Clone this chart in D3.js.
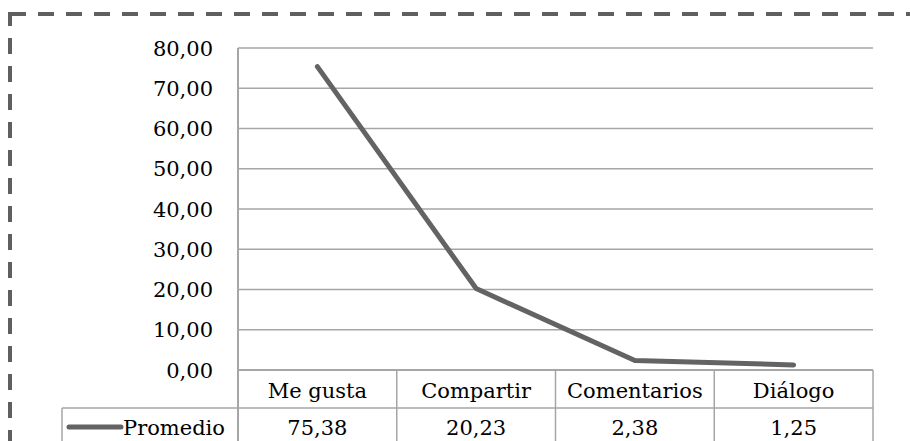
<!DOCTYPE html>
<html><head><meta charset="utf-8">
<script src="https://cdn.jsdelivr.net/npm/d3@7"></script>
<style>body{margin:0;background:#fff}svg{display:block}</style>
</head><body>
<svg id="c" width="910" height="441"></svg>
<script>
const categories = ["Me gusta","Compartir","Comentarios","Diálogo"];
const seriesName = "Promedio";
const values = [75.38,20.23,2.38,1.25];
const valueLabels = ["75,38","20,23","2,38","1,25"];
const yTicks = [0,10,20,30,40,50,60,70,80];

const svg = d3.select("#c");
const loc = d3.formatLocale({decimal:",",thousands:".",grouping:[3],currency:["","€"]});
const fmt = loc.format(".2f");

const L=238, R=873, T=48, B=370, rowH=38;
const x = d3.scaleBand().domain(categories).range([L,R]).padding(0);
const y = d3.scaleLinear().domain([0,80]).range([B,T]);
const grid="#a6a6a6", lineC="#636363";
const FF = "DejaVu Serif";
const FS = 21;

// dashed frame
svg.append("rect").attr("x",10).attr("y",14).attr("width",940).attr("height",480)
  .attr("fill","none").attr("stroke","#5f5f5f").attr("stroke-width",4).attr("stroke-dasharray","16,12");

// gridlines
svg.append("g").selectAll("line").data(yTicks).join("line")
  .attr("x1",L).attr("x2",R).attr("y1",d=>y(d)).attr("y2",d=>y(d))
  .attr("stroke",grid).attr("stroke-width",d=>d===0?2:1.5);

// y axis labels
svg.append("g").selectAll("text").data(yTicks).join("text")
  .attr("x",213).attr("y",d=>y(d)).attr("dy","0.36em").attr("text-anchor","end")
  .style("font-family",FF).attr("font-size",FS).text(d=>fmt(d));

// table lines
const tb = svg.append("g").attr("stroke",grid).attr("stroke-width",1.5);
tb.append("line").attr("x1",L).attr("x2",L).attr("y1",T).attr("y2",B+rowH*2+10).attr("stroke-width",2);
categories.forEach(c=>{
  const xe = x(c)+x.bandwidth();
  tb.append("line").attr("x1",xe).attr("x2",xe).attr("y1",B).attr("y2",B+rowH*2+10);
});
tb.append("line").attr("x1",62).attr("x2",R).attr("y1",B+rowH).attr("y2",B+rowH);
tb.append("line").attr("x1",62).attr("x2",62).attr("y1",B+rowH).attr("y2",B+rowH*2+10);

// category labels
svg.append("g").selectAll("text").data(categories).join("text")
  .attr("x",d=>x(d)+x.bandwidth()/2).attr("y",B+28).attr("text-anchor","middle")
  .style("font-family",FF).attr("font-size",FS).text(d=>d);
// values row
svg.append("g").selectAll("text").data(categories).join("text")
  .attr("x",d=>x(d)+x.bandwidth()/2).attr("y",B+rowH+27).attr("text-anchor","middle")
  .style("font-family",FF).attr("font-size",FS).text((d,i)=>valueLabels[i]);

// legend key
svg.append("line").attr("x1",69).attr("x2",121).attr("y1",427).attr("y2",427)
  .attr("stroke",lineC).attr("stroke-width",5).attr("stroke-linecap","round");
svg.append("text").attr("x",123).attr("y",B+rowH+27).style("font-family",FF).attr("font-size",FS).text(seriesName);

// series line
const line = d3.line().x((d,i)=>x(categories[i])+x.bandwidth()/2).y(d=>y(d));
svg.append("path").datum(values).attr("d",line).attr("fill","none")
  .attr("stroke",lineC).attr("stroke-width",5).attr("stroke-linecap","round").attr("stroke-linejoin","round");
</script>
</body></html>
